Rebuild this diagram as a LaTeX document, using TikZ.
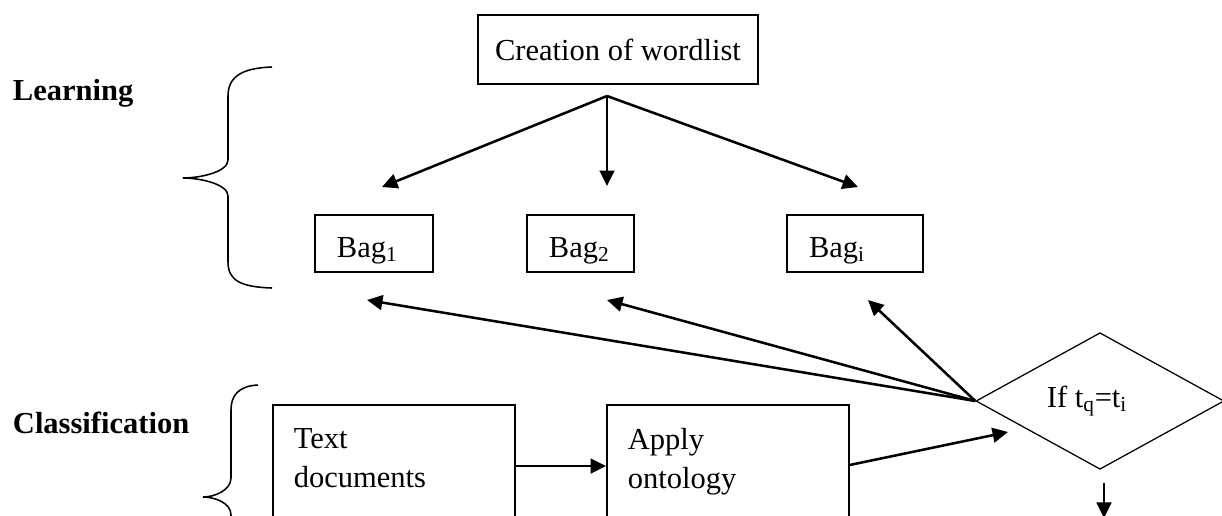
\documentclass[tikz,border=0pt]{standalone}
\usepackage{fontspec}
\setmainfont{Liberation Serif}
\usetikzlibrary{arrows.meta,shapes.geometric,positioning}

\tikzset{
  box/.style={draw, line width=1.1pt, inner sep=0pt},
  bagbox/.style={box, minimum height=1.425cm, align=left, inner xsep=0.55cm, text height=0.85cm, text depth=0.175cm},
  docbox/.style={box, anchor=north west, align=left, text width=5cm, inner xsep=0.525cm, inner ysep=0.6cm, text depth=2.5cm},
  link/.style={line width=1.8pt, -{Triangle[length=11pt,width=10.5pt]}},
  brace/.style={line width=1.1pt},
}

\begin{document}
\begin{tikzpicture}[x=0.025cm, y=-0.025cm, font=\fontsize{21.7}{27.7}\selectfont]
    \useasboundingbox (0,0) rectangle (1222,515);
    \clip (0,0) rectangle (1222,515);

    % Section labels and braces
    \node[anchor=base west, font=\fontsize{21.7}{27.7}\selectfont\bfseries] (learn) at (8,100) {Learning};
    \node[anchor=base west, font=\fontsize{21.7}{27.7}\selectfont\bfseries] (classify) at (8,433) {Classification};
    \draw[brace] (272,67) .. controls (240,68) and (228,78) .. (228,96) -- (228,160)
        .. controls (228,172) and (200,178) .. (183,178) .. controls (200,178) and (228,184) .. (228,196)
        -- (228,262) .. controls (228,280) and (240,287) .. (272,288);
    \draw[brace] (258,385) .. controls (238,386) and (231,396) .. (231,410) -- (231,478)
        .. controls (231,490) and (215,497) .. (203,497) .. controls (215,497) and (231,503) .. (231,515)
        -- (231,580) .. controls (231,596) and (238,606) .. (258,607);

    % Learning part
    \node[box, minimum width=7cm, minimum height=1.725cm] (wordlist) at (618,49.5) {Creation of wordlist};
    \node[bagbox, text width=1.85cm] (bag1) at (374,243.5) {Bag\textsubscript{1}};
    \node[bagbox, text width=1.575cm] (bag2) at (580.5,243.5) {Bag\textsubscript{2}};
    \node[bagbox, text width=2.3cm] (bagi) at (855,243.5) {Bag\textsubscript{i}};

    \coordinate (fork) at (607,96);
    \coordinate (in1) at (382,187);
    \coordinate (in2) at (607,186);
    \coordinate (in3) at (858,187);
    \draw[link] (fork) -- (in1);
    \draw[link] (fork) -- (in2);
    \draw[link] (fork) -- (in3);

    % Classification part
    \node[docbox] (docs) at (272,404) {Text\\documents};
    \node[docbox] (onto) at (606,404) {Apply\\ontology};
    \node[draw, diamond, line width=0.9pt, inner sep=0pt, minimum width=6.2cm, minimum height=3.3cm] (cond) at (1100,401) {If t\textsubscript{q}=t\textsubscript{i}\kern0.65cm};

    \coordinate (condin) at (1008,432);
    \coordinate (out1) at (367,300);
    \coordinate (out2) at (607,300);
    \coordinate (out3) at (868,300);
    \draw[link] ([yshift=-1.55cm]docs.north east) -- ([yshift=-1.55cm]onto.north west);
    \draw[link] ([yshift=-1.525cm]onto.north east) -- (condin);
    \draw[link] (cond.west) -- (out1);
    \draw[link] (cond.west) -- (out2);
    \draw[link] (cond.west) -- (out3);
    \draw[link] ([shift={(4,13)}]cond.south) -- ++(0,35);
\end{tikzpicture}
\end{document}
